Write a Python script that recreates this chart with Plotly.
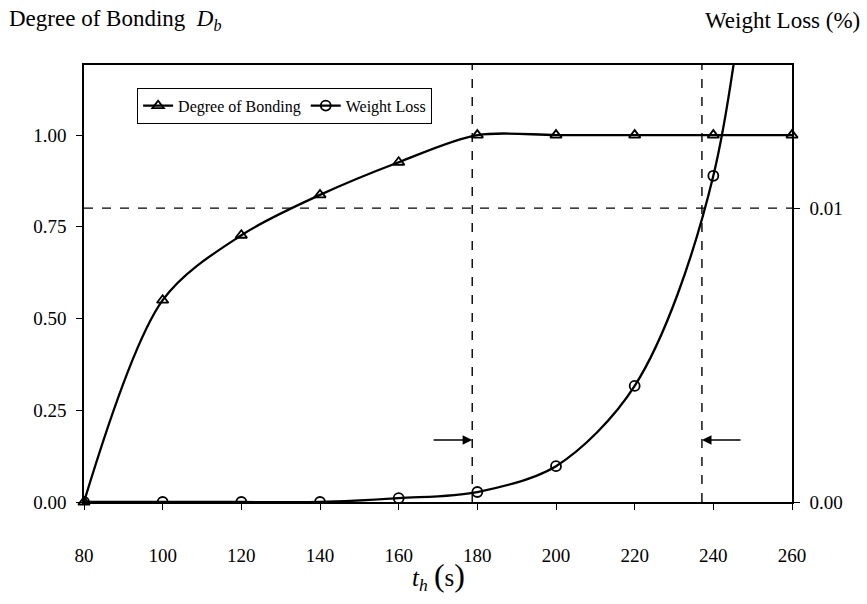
import plotly.graph_objects as go

# Heating time t_h (s)
t_h = [80, 100, 120, 140, 160, 180, 200, 220, 240, 260]
# Degree of bonding D_b (left axis)
bonding = [0.0, 0.55, 0.727, 0.837, 0.926, 1.0, 1.0, 1.0, 1.0, 1.0]
# Weight loss in % (right axis); the 260 s value lies above the axis range
weight_loss = [0.0, 0.0, 0.0, 0.0, 0.00013, 0.00034, 0.00122, 0.00395, 0.0111, 0.034]

# Reference levels
t_onset = 178.7      # full bonding reached
t_limit = 237.1      # weight loss reaches the limit
wl_limit = 0.01      # weight loss limit (%)
arrow_level = 0.169  # height of the arrows on the D_b scale

left_ticks = [0.0, 0.25, 0.5, 0.75, 1.0]
left_ticktext = ["0.00", "0.25", "0.50", "0.75", "1.00"]
right_ticks = [0.0, 0.01]
right_ticktext = ["0.00", "0.01"]
x_ticks = list(range(80, 261, 20))

FONT = "Liberation Serif, Times New Roman, serif"

fig = go.Figure()
fig.add_trace(go.Scatter(
    x=t_h, y=bonding, name="Degree of Bonding",
    mode="lines+markers", line=dict(color="black", width=2.3, shape="spline", smoothing=0.9),
    marker=dict(symbol="triangle-up-open", size=10, color="black", line=dict(width=1.8)),
    cliponaxis=False, yaxis="y",
))
fig.add_trace(go.Scatter(
    x=t_h, y=weight_loss, name="Weight Loss",
    mode="lines+markers", line=dict(color="black", width=2.3, shape="spline", smoothing=0.9),
    marker=dict(symbol="circle-open", size=10, color="black", line=dict(width=1.8)),
    cliponaxis=True, yaxis="y2",
))

# dashed guide lines
dash = dict(color="black", width=1.4, dash="dash")
fig.add_shape(type="line", xref="x", yref="paper", x0=t_onset, x1=t_onset, y0=0, y1=1, line=dash)
fig.add_shape(type="line", xref="x", yref="paper", x0=t_limit, x1=t_limit, y0=0, y1=1, line=dash)
fig.add_shape(type="line", xref="paper", yref="y2", x0=0, x1=1, y0=wl_limit, y1=wl_limit, line=dash)

# arrows marking the process window
for tip, tail in [(t_onset, 168.5), (t_limit, 247.3)]:
    fig.add_annotation(x=tip, y=arrow_level, ax=tail, ay=arrow_level, xref="x", yref="y",
                       axref="x", ayref="y", text="", showarrow=True, arrowhead=2,
                       arrowsize=1.2, arrowwidth=1.6, arrowcolor="black")

# axis captions
fig.add_annotation(xref="paper", yref="paper", x=-0.109, y=1.102, xanchor="left", yanchor="middle",
                   text="Degree of Bonding  <i>D</i><sub><i>b</i></sub>", showarrow=False,
                   font=dict(family=FONT, size=23, color="black"))
fig.add_annotation(xref="paper", yref="paper", x=1.099, y=1.102, xanchor="right", yanchor="middle",
                   text="Weight Loss (%)", showarrow=False,
                   font=dict(family=FONT, size=23, color="black"))
fig.add_annotation(xref="paper", yref="paper", x=0.5, y=-0.17, xanchor="center", yanchor="middle",
                   text="<i>t</i><sub><i>h</i></sub> <span style='font-size:32px'>(</span>s<span style='font-size:32px'>)</span>",
                   showarrow=False, font=dict(family=FONT, size=25, color="black"))

axis_common = dict(showgrid=False, zeroline=False, showline=True, linecolor="black", linewidth=1.6,
                   ticks="outside", ticklen=6, tickwidth=1.2, tickcolor="black",
                   tickfont=dict(family=FONT, size=19, color="black"))

fig.update_layout(
    width=867, height=604,
    margin=dict(l=84, r=75, t=65, b=102),
    plot_bgcolor="white", paper_bgcolor="white",
    showlegend=True,
    legend=dict(x=0.075, y=0.948, xanchor="left", yanchor="top", orientation="h",
                bordercolor="black", borderwidth=1, bgcolor="white",
                font=dict(family=FONT, size=16, color="black"),
                itemwidth=30, tracegroupgap=0),
    xaxis=dict(range=[80, 260], tickvals=x_ticks, mirror=True, ticklabelstandoff=29, **axis_common),
    yaxis=dict(range=[0, 1.191], tickvals=left_ticks, ticktext=left_ticktext, ticklabelstandoff=6,
               **axis_common),
    yaxis2=dict(range=[0, 0.01487], tickvals=right_ticks, ticktext=right_ticktext, overlaying="y",
                side="right", ticklabelstandoff=6, **axis_common),
)

fig.write_html("out.html")
